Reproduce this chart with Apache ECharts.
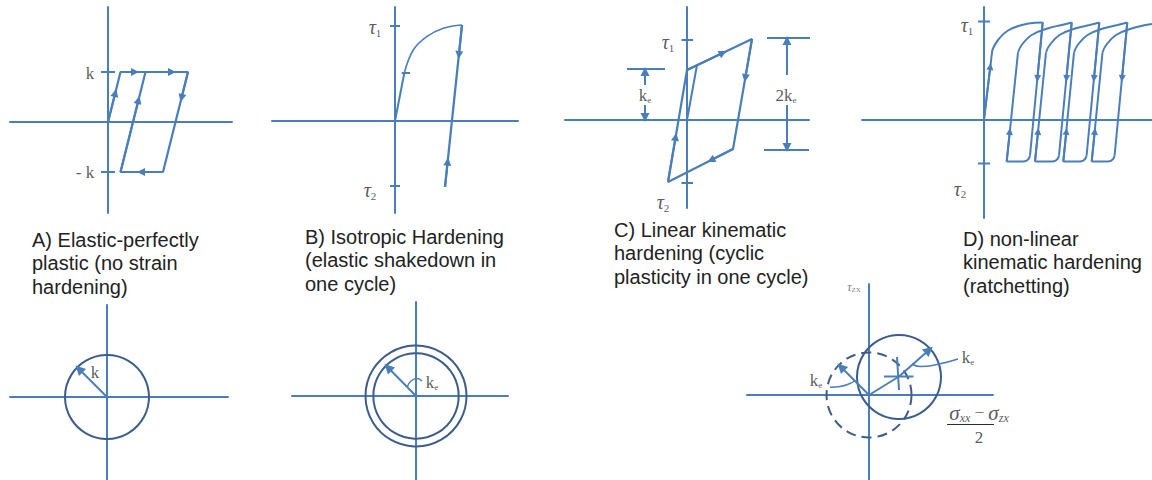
<!DOCTYPE html>
<html><head><meta charset="utf-8">
<script src="https://cdn.jsdelivr.net/npm/echarts@6/dist/echarts.min.js"></script>
<style>html,body{margin:0;padding:0;background:#fff}#c{width:1152px;height:480px}</style>
</head><body><div id="c"></div>
<script>
// ================= DATA (diagram units) =================
const captions = [
  'A) Elastic-perfectly\nplastic (no strain\nhardening)',
  'B) Isotropic Hardening\n(elastic shakedown in\none cycle)',
  'C) Linear kinematic\nhardening (cyclic\nplasticity in one cycle)',
  'D) non-linear\nkinematic hardening\n(ratchetting)'
];

// Panel A : elastic-perfectly plastic
const aLoop = [[0,0],[1.25,5],[8,5],[5.5,-5],[1.25,-5],[3.75,5]];
const aTicks = [[[-0.7,5],[0.7,5]],[[-0.7,-5],[0.7,-5]]];
const aArrows = [[[0,0],[0.73,2.9]],[[1.25,5],[2.7,5]],[[1.25,5],[6.4,5]],[[8,5],[7.35,2.4]],[[5.5,-5],[3.3,-5]],[[1.25,-5],[3.05,2.2]]];
const aLabels = [[-1.8,4.9,'{m|k}'],[-2.3,-5,'{m|- k}']];

// Panel B : isotropic hardening
const bElastic = [[0,0],[0.93,4.8]];
const bCurve = [[0.93,4.8],[1.83,7.1],[3.17,8.43],[4.83,9.27],[6.7,9.6]];
const bUnload = [[6.7,9.6],[5.0,-6.6]];
const bTicks = [[[-0.5,9.5],[0.5,9.5]],[[-0.5,-6.5],[0.5,-6.5]],[[0.67,4.8],[1.5,4.8]]];
const bArrows = [[[6.7,9.6],[6.39,6.6]],[[5.0,-6.6],[5.27,-4.07]]];
const bLabels = [[-2.0,9.4,'{t|τ}{s|1}'],[-2.5,-6.9,'{t|τ}{s|2}']];

// Panel C : linear kinematic hardening
const cElastic = [[0,0],[1.0,5.5]];
const cLoop = [[0,5.0],[6.5,8.1],[4.6,-2.9],[-1.9,-6.2],[0,5.0]];
const cTicks = [[[-0.55,8.0],[0.6,8.0]],[[-0.55,-6.3],[0.6,-6.3]]];
const cArrows = [[[0,5.0],[3.6,6.72]],[[6.5,8.1],[5.83,4.2]],[[4.6,-2.9],[2.4,-4.02]],[[-1.9,-6.2],[-1.14,-1.7]]];
const cDimLines = [[[-6.0,5.1],[-2.2,5.1]],[[8.0,8.2],[12.8,8.2]],[[7.7,-3.0],[12.2,-3.0]]];
const cDimArrows = [[[-4.2,3.5],[-4.2,4.85]],[[-4.2,1.5],[-4.2,0.25]],[[10.0,4.5],[10.0,7.95]],[[10.0,1.5],[10.0,-2.75]]];
const cLabels = [[-1.9,7.8,'{t|τ}{s|1}'],[-2.4,-8.2,'{t|τ}{s|2}'],[-4.2,2.5,'{k|k}{e|e}'],[9.9,2.5,'{k|2k}{e|e}']];

// Panel D : non-linear kinematic hardening (ratchetting)
const dRises = [[[0,0],[0.83,6.95]],[[2.27,-4.2],[3.4,6.7]],[[5.1,-4.2],[6.2,6.7]],[[7.93,-4.2],[9.0,6.7]],[[10.77,-4.2],[11.85,6.7]]];
const dCurves = [
  [[0.83,6.95],[1.4,7.95],[2.4,8.9],[3.8,9.45],[5.1,9.68],[5.87,9.7]],
  [[3.4,6.7],[3.77,7.45],[4.77,8.45],[6.43,9.12],[7.77,9.45],[8.77,9.7]],
  [[6.2,6.7],[6.57,7.45],[7.55,8.45],[9.2,9.12],[10.55,9.45],[11.53,9.7]],
  [[9.0,6.7],[9.37,7.45],[10.35,8.45],[12.0,9.12],[13.35,9.45],[14.33,9.7]],
  [[11.85,6.7],[12.22,7.45],[13.2,8.45],[14.85,9.12],[16.2,9.45],[16.8,9.55]]
];
const dDescents = [[[5.87,9.7],[4.6,-3.6]],[[8.77,9.7],[7.5,-3.6]],[[11.53,9.7],[10.26,-3.6]],[[14.33,9.7],[13.06,-3.6]]];
const dBottoms = [
  [[4.6,-3.6],[4.45,-3.95],[4.1,-4.18],[3.6,-4.2],[2.27,-4.2]],
  [[7.5,-3.6],[7.35,-3.95],[7.0,-4.18],[6.5,-4.2],[5.1,-4.2]],
  [[10.26,-3.6],[10.11,-3.95],[9.76,-4.18],[9.26,-4.2],[7.93,-4.2]],
  [[13.06,-3.6],[12.91,-3.95],[12.56,-4.18],[12.06,-4.2],[10.77,-4.2]]
];
const dTicks = [[[-0.6,9.8],[0.6,9.8]],[[-0.6,-4.4],[0.6,-4.4]]];
const dArrows = [
  [[0,0],[0.63,5.3]],
  [[5.87,9.7],[5.34,4.1]],[[8.77,9.7],[8.24,4.1]],[[11.53,9.7],[11.0,4.1]],[[14.33,9.7],[13.8,4.1]],
  [[2.27,-4.2],[2.58,-1.2]],[[5.1,-4.2],[5.41,-1.2]],[[7.93,-4.2],[8.24,-1.2]],[[10.77,-4.2],[11.08,-1.2]]
];
const dLabels = [[-1.7,9.45,'{t|τ}{s|1}'],[-2.4,-6.9,'{t|τ}{s|2}']];

// Panel E : yield circle
const eCircles = [[0,0,4.2,0]];
const eArrows = [[[0,0],[-2.8,2.8]]];
const eLabels = [[-1.2,2.5,'{m|k}']];

// Panel F : isotropic circles
const fCircles = [[0,0,5.05,0],[0,0,4.27,0]];
const fArrows = [[[0,0],[-2.8,2.85]]];
const fLeader = [[-0.85,0.95],[-0.5,1.5],[0.1,1.75],[0.6,1.5]];
const fLabels = [[1.6,1.4,'{k|k}{e|e}']];

// Panel G : kinematic translation of the yield circle
const gCircles = [[0,0,4.25,1],[3.0,1.8,4.2,0]];
const gCentreLine = [[0,0],[3.0,1.85]];
const gCross = [[[1.5,1.85],[4.45,1.85]],[[2.8,3.8],[3.0,0.5]]];
const gArrows = [[[3.0,1.85],[6.0,4.5]],[[0,0],[-2.8,2.8]]];
const gLeaders = [[[4.3,3.1],[5.1,2.85],[6.8,3.05],[8.9,3.6]],[[-3.9,0.77],[-2.9,0.85],[-1.9,1.15],[-1.4,1.45]]];
const gFracBar = [[7.8,-2.95],[14.2,-2.95]];
const gLabels = [[9.9,3.8,'{k|k}{e|e}'],[-5.3,1.5,'{k|k}{e|e}'],[-1.5,10.8,'{tt|τ}{ts|ZX}'],
  [11.0,-1.75,'{g|σ}{u|xx}{n| − }{g|σ}{u|zx}'],[11.0,-4.2,'{n|2}']];

// ================= LAYOUT / STYLE =================
const BLUE = '#4a7ebb', DARK = '#3c5d8c', TXT = '#2e2e2e';
const panels = [
  {left:10,  top:7,   width:222, height:206, x:[-9.8,12.4],  y:[-9.1,11.5]},
  {left:272, top:7,   width:246, height:206, x:[-12.3,12.3], y:[-9.2,11.4]},
  {left:565, top:7,   width:244, height:201, x:[-12.2,12.2], y:[-8.8,11.3]},
  {left:862, top:7,   width:290, height:211, x:[-12.2,16.8], y:[-9.85,11.25]},
  {left:10,  top:305, width:218, height:175, x:[-9.7,12.1],  y:[-8.3,9.2]},
  {left:292, top:302, width:216, height:178, x:[-12.4,9.2],  y:[-8.4,9.4]},
  {left:747, top:284, width:246, height:196, x:[-12.2,12.4], y:[-8.5,11.1]}
];
const A=0,B=1,C=2,D=3,E=4,F=5,G=6;
const serif = 'Liberation Serif';
const rich = {
  m:{fontFamily:serif,fontSize:17,color:TXT},
  t:{fontFamily:serif,fontStyle:'italic',fontSize:20,color:TXT,lineHeight:22},
  s:{fontFamily:serif,fontSize:11,color:TXT,verticalAlign:'bottom',lineHeight:22},
  k:{fontFamily:serif,fontSize:17,color:TXT,lineHeight:18},
  e:{fontFamily:serif,fontSize:9,color:TXT,verticalAlign:'bottom',lineHeight:18},
  tt:{fontFamily:serif,fontStyle:'italic',fontSize:12,color:'#555',lineHeight:12},
  ts:{fontFamily:serif,fontSize:7,color:'#555',verticalAlign:'bottom',lineHeight:12},
  g:{fontFamily:serif,fontStyle:'italic',fontSize:21,color:TXT,lineHeight:22},
  u:{fontFamily:serif,fontStyle:'italic',fontSize:12,color:TXT,verticalAlign:'bottom',lineHeight:22},
  n:{fontFamily:serif,fontSize:17,color:TXT,lineHeight:22}
};

const series = [];
function line(g, pts, o) {
  o = o || {};
  series.push({type:'line', xAxisIndex:g, yAxisIndex:g, data:pts, symbol:'none', showSymbol:false,
    smooth:o.smooth||false, clip:false, silent:true, animation:false, z:o.z||3,
    lineStyle:{color:o.color||BLUE, width:o.width||2, type:o.type||'solid'}});
}
function arrows(g, list, o) {
  o = o || {};
  series.push({type:'lines', coordinateSystem:'cartesian2d', xAxisIndex:g, yAxisIndex:g, silent:true,
    animation:false, clip:false, z:4,
    symbol:['none','triangle'], symbolSize:o.size||8,
    lineStyle:{color:o.color||BLUE, width:o.width||2, opacity:1, curveness:0},
    data:list.map(c => ({coords:c}))});
}
function circles(g, list) {
  series.push({type:'custom', coordinateSystem:'cartesian2d', xAxisIndex:g, yAxisIndex:g, silent:true,
    animation:false, clip:false, z:3, data:list,
    renderItem:(params, api) => {
      const c = api.coord([api.value(0), api.value(1)]);
      const r = api.size([api.value(2), 0])[0];
      return {type:'circle', shape:{cx:c[0], cy:c[1], r:r},
        style:{fill:'none', stroke:DARK, lineWidth:2, lineDash: api.value(3) ? [10,6] : null}};
    }});
}
function texts(g, list) {
  series.push({type:'scatter', xAxisIndex:g, yAxisIndex:g, silent:true, animation:false, clip:false,
    symbol:'circle', symbolSize:1, itemStyle:{color:'rgba(0,0,0,0)'}, z:5,
    label:{show:true, position:'inside', align:'center', verticalAlign:'middle', rich:rich},
    data:list.map(t => ({value:[t[0],t[1]], label:{formatter:t[2]}}))});
}

// Panel A
line(A, aLoop, {width:2.2});
aTicks.forEach(t => line(A, t));
arrows(A, aArrows); texts(A, aLabels);
// Panel B
line(B, bElastic); line(B, bCurve, {smooth:0.4, width:1.6}); line(B, bUnload, {width:2.3});
bTicks.forEach(t => line(B, t));
arrows(B, bArrows); texts(B, bLabels);
// Panel C
line(C, cElastic); line(C, cLoop, {width:2.2});
cTicks.forEach(t => line(C, t)); cDimLines.forEach(t => line(C, t));
arrows(C, cArrows); arrows(C, cDimArrows, {size:9}); texts(C, cLabels);
// Panel D
dRises.forEach(t => line(D, t));
dCurves.forEach(t => line(D, t, {smooth:0.4}));
dDescents.forEach(t => line(D, t));
dBottoms.forEach(t => line(D, t, {smooth:0.4}));
dTicks.forEach(t => line(D, t));
arrows(D, dArrows, {size:7}); texts(D, dLabels);
// Panel E
circles(E, eCircles); arrows(E, eArrows, {size:10}); texts(E, eLabels);
// Panel F
circles(F, fCircles); arrows(F, fArrows, {size:10}); line(F, fLeader, {smooth:0.5, width:1.5}); texts(F, fLabels);
// Panel G
circles(G, gCircles); line(G, gCentreLine); gCross.forEach(t => line(G, t));
arrows(G, gArrows, {size:10});
gLeaders.forEach(t => line(G, t, {smooth:0.5, width:1.5}));
line(G, gFracBar, {color:TXT, width:1});
texts(G, gLabels);

const axisCommon = {type:'value', axisTick:{show:false}, axisLabel:{show:false}, splitLine:{show:false},
  axisLine:{show:true, onZero:true, lineStyle:{color:BLUE, width:2}}};
const option = {
  backgroundColor:'#fff',
  animation:false,
  title: captions.map((c, i) => ({text:c, padding:0,
    left:[32,305,614,963][i], top:[228,225,218,227][i],
    textStyle:{fontFamily:'Liberation Sans', fontSize:20, fontWeight:'normal', color:'#222', lineHeight:23.5}})),
  grid: panels.map(p => ({left:p.left, top:p.top, width:p.width, height:p.height, containLabel:false, outerBoundsMode:'none'})),
  xAxis: panels.map((p, i) => Object.assign({}, axisCommon, {gridIndex:i, min:p.x[0], max:p.x[1]})),
  yAxis: panels.map((p, i) => Object.assign({}, axisCommon, {gridIndex:i, min:p.y[0], max:p.y[1]})),
  series: series
};
const chart = echarts.init(document.getElementById('c'), null, {renderer:'svg'});
chart.setOption(option);
</script>
</body></html>
